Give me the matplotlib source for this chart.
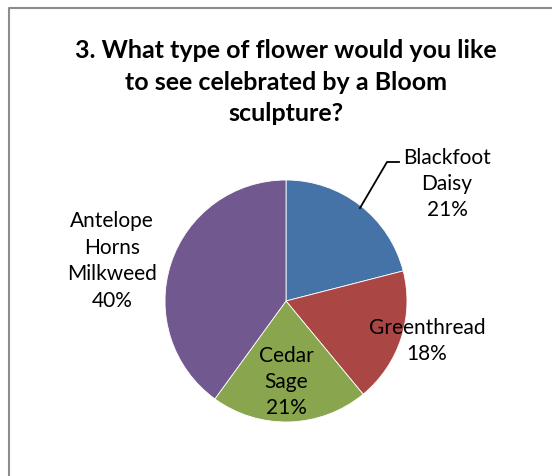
import numpy as np
import matplotlib.pyplot as plt

# Survey results (percent of responses)
flowers = ["Blackfoot\nDaisy", "Greenthread", "Cedar\nSage", "Antelope\nHorns\nMilkweed"]
shares = [21, 18, 21, 40]
colors = ["#4572A7", "#AA4643", "#89A54E", "#71588F"]
title = "3. What type of flower would you like\nto see celebrated by a Bloom\nsculpture?"

W, H = 552, 477
fig = plt.figure(figsize=(W / 100, H / 100), dpi=100)
ax = fig.add_axes([0, 0, 1, 1])

# chart frame (only top and left edges are visible in the crop)
ax.plot([9, 9, W], [0, H - 9, H - 9], color="#8c8c8c", lw=1.5, solid_capstyle="butt")

cx, cy, r = 286, H - 302, 121
wedges, _ = ax.pie(shares, colors=colors, startangle=90, counterclock=False,
                   center=(cx, cy), radius=r, frame=True,
                   wedgeprops=dict(linewidth=0.6, edgecolor="white"))
ax.set_xlim(0, W)
ax.set_ylim(0, H)
ax.set_aspect("equal")
ax.axis("off")

font = ["Lato", "DejaVu Sans"]
ax.text(cx, H - 82, title, ha="center", va="center", fontsize=18, fontweight="bold",
        family=font, linespacing=1.45)

# label anchor points (pixel coords from the top) for each slice
label_pos = [(447, 184), (427, 341), (286, 382), (112, 261)]
for name, val, (lx, ly) in zip(flowers, shares, label_pos):
    ax.text(lx, H - ly, f"{name}\n{val}%", ha="center", va="center", fontsize=15,
            family=font, linespacing=1.4, color="black")

# leader line for Blackfoot Daisy
ax.plot([360, 387, 399], [H - 209, H - 163, H - 163], color="black", lw=1.3)

fig.savefig("out.png", dpi=100)
